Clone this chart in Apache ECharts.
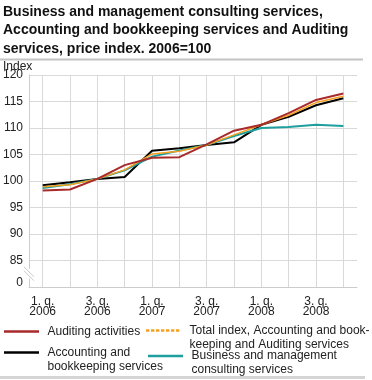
<!DOCTYPE html>
<html><head><meta charset="utf-8">
<script src="https://cdn.jsdelivr.net/npm/echarts@6/dist/echarts.min.js"></script>
<style>html,body{margin:0;padding:0;background:#fff}#c{width:372px;height:380px}</style>
</head><body><div id="c"></div>
<script>
const categories = ['1. q.\n2006','2. q.\n2006','3. q.\n2006','4. q.\n2006','1. q.\n2007','2. q.\n2007','3. q.\n2007','4. q.\n2007','1. q.\n2008','2. q.\n2008','3. q.\n2008','4. q.\n2008'];
const auditing = [98.2, 98.4, 100.4, 103.0, 104.4, 104.5, 106.9, 109.5, 110.6, 112.8, 115.3, 116.5];
const totalIndex = [98.9, 99.3, 100.4, 102.1, 105.1, 105.6, 106.8, 108.7, 110.6, 112.4, 114.8, 116.0];
const accounting = [99.2, 99.75, 100.4, 100.75, 105.7, 106.2, 106.8, 107.3, 110.6, 112.1, 114.3, 115.6];
const consulting = [98.7, 99.4, 100.4, 102.0, 104.6, 105.75, 106.8, 108.5, 110.0, 110.2, 110.6, 110.4];
const yTicks = {min: 80, max: 120, step: 5, breakLabel: '0'};

const FONT = '"Liberation Sans", Arial, sans-serif';
const C_RED = '#a82a2a', C_BLACK = '#000000', C_TEAL = '#1f9e9e', C_ORANGE = '#f5a01e';
const ICON_SOLID = 'path://M0,0h42v3h-42z';
const ICON_DASH = 'path://M0,0h4v3h-4z M6,0h4v3h-4z M12,0h4v3h-4z M18,0h4v3h-4z M24,0h4v3h-4z M30,0h4v3h-4z M36,0h4v3h-4z M42,0h0v3h0z';
const chart = echarts.init(document.getElementById('c'), null, {renderer: 'canvas'});

function lg(name, left, top, icon) {
  return {
    data: [{name: name, icon: icon}], left: left, top: top, padding: 0, orient: 'vertical',
    itemWidth: 42, itemHeight: 2.5, itemGap: 0,
    formatter: n => (n.indexOf('\n') >= 0 ? '\n' + n : n),
    textStyle: {fontFamily: FONT, fontSize: 12, color: '#222', lineHeight: 14},
    selectedMode: false
  };
}

const option = {
  animation: false,
  title: [{
    text: 'Business and management consulting services,\nAccounting and bookkeeping services and Auditing\nservices, price index. 2006=100',
    left: 3, top: 2.5, padding: 0,
    textStyle: {fontFamily: FONT, fontSize: 14, fontWeight: 'bold', color: '#111', lineHeight: 18.6}
  }, {
    text: 'Index', left: 3, top: 61, padding: 0,
    textStyle: {fontFamily: FONT, fontSize: 12, fontWeight: 'normal', color: '#222', lineHeight: 12}
  }],
  grid: {left: 27, right: 15, top: 75, bottom: 93, containLabel: false},
  legend: [
    lg('Auditing activities', 4, 324.5, ICON_SOLID),
    lg('Total index, Accounting and book-\nkeeping and Auditing services', 146, 309.5, ICON_DASH),
    lg('Accounting and\nbookkeeping services', 4, 331.5, ICON_SOLID),
    lg('Business and management\nconsulting services', 148, 335, ICON_SOLID)
  ],
  xAxis: {
    type: 'category', data: categories, boundaryGap: true,
    axisLine: {show: true, lineStyle: {color: '#cccccc', width: 1}},
    axisTick: {show: false},
    axisLabel: {interval: 1, fontFamily: FONT, fontSize: 12, color: '#222', lineHeight: 10, margin: 10},
    splitLine: {show: true, interval: 0, alignWithLabel: true, lineStyle: {color: '#d9d9d9', width: 1}}
  },
  yAxis: {
    type: 'value', min: yTicks.min, max: yTicks.max, interval: yTicks.step,
    axisLine: {show: true, lineStyle: {color: '#cccccc', width: 1}},
    axisTick: {show: false},
    axisLabel: {fontFamily: FONT, fontSize: 12, color: '#222', margin: 6,
      formatter: v => v === yTicks.min ? '{b|' + yTicks.breakLabel + '}' : String(v),
      rich: {b: {fontFamily: FONT, fontSize: 12, color: '#222', padding: [0, 0, 8, 0]}}},
    splitLine: {show: true, lineStyle: {color: '#d9d9d9', width: 1}}
  },
  series: [
    {name: 'Accounting and\nbookkeeping services', type: 'line', data: accounting, symbol: 'none',
      lineStyle: {color: C_BLACK, width: 2}, itemStyle: {color: C_BLACK}},
    {name: 'Business and management\nconsulting services', type: 'line', data: consulting, symbol: 'none',
      lineStyle: {color: C_TEAL, width: 2}, itemStyle: {color: C_TEAL}},
    {name: 'Total index, Accounting and book-\nkeeping and Auditing services', type: 'line', data: totalIndex, symbol: 'none',
      lineStyle: {color: C_ORANGE, width: 1.5}, itemStyle: {color: C_ORANGE}},
    {name: 'Auditing activities', type: 'line', data: auditing, symbol: 'none',
      lineStyle: {color: C_RED, width: 2}, itemStyle: {color: C_RED}}
  ]
};
chart.setOption(option);

// rules and axis break mark
const yMid = (chart.convertToPixel({yAxisIndex: 0}, 85) + chart.convertToPixel({yAxisIndex: 0}, 80)) / 2;
const xAx = chart.convertToPixel({xAxisIndex: 0}, 0) - 13.75;
chart.setOption({
  graphic: {
    elements: [
      {type: 'rect', id: 'titleRule', z: 100, shape: {x: 0, y: 58.5, width: 363, height: 2}, style: {fill: '#c4c4c4'}, silent: true},
      {type: 'rect', id: 'bottomRule', z: 100, shape: {x: 0, y: 376, width: 365, height: 3}, style: {fill: '#d5d5d5'}, silent: true},
      {type: 'rect', id: 'brkBg', shape: {x: xAx - 1, y: yMid - 5, width: 2, height: 10}, style: {fill: '#fff'}, z: 10, silent: true},
      {type: 'line', id: 'brk1', shape: {x1: xAx - 5, y1: yMid - 7, x2: xAx + 5, y2: yMid + 3}, style: {stroke: '#c8c8c8', lineWidth: 1}, z: 11, silent: true},
      {type: 'line', id: 'brk2', shape: {x1: xAx - 5, y1: yMid - 3, x2: xAx + 5, y2: yMid + 7}, style: {stroke: '#c8c8c8', lineWidth: 1}, z: 11, silent: true}
    ]
  }
});
</script></body></html>
